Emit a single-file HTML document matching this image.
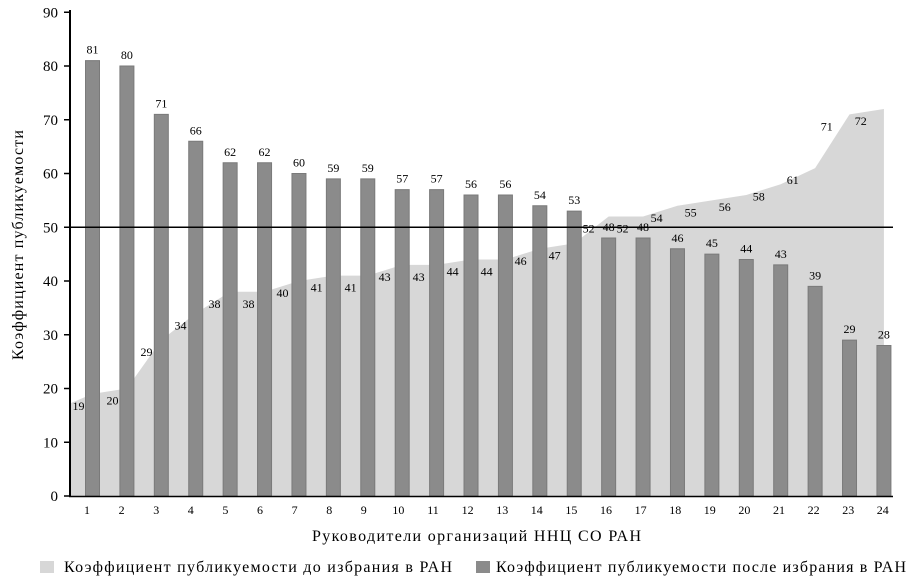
<!DOCTYPE html>
<html><head><meta charset="utf-8"><style>
body{margin:0;background:#fff;}
svg text{font-family:"Liberation Serif",serif;fill:#000;}
</style></head><body>
<svg id="c" width="919" height="583"></svg>
<script>
const categories=["1","2","3","4","5","6","7","8","9","10","11","12","13","14","15","16","17","18","19","20","21","22","23","24"];
const afterValues=[81,80,71,66,62,62,60,59,59,57,57,56,56,54,53,48,48,46,45,44,43,39,29,28];
const beforeValues=[19,20,29,34,38,38,40,41,41,43,43,44,44,46,47,52,52,54,55,56,58,61,71,72];
const yTicks=[0,10,20,30,40,50,60,70,80,90];
const svg=document.getElementById('c');
const NS='http://www.w3.org/2000/svg';
function el(t,a,p){const e=document.createElementNS(NS,t);for(const k in a)e.setAttribute(k,a[k]);(p||svg).appendChild(e);return e;}
const y=v=>496-v*5.375;
const x=i=>87+i*34.6;
const xb=i=>92.5+i*34.41;
// area
let pts=[(71)+','+y(beforeValues[0]-1.7)];
beforeValues.forEach((v,i)=>pts.push(xb(i)+','+y(v)));
pts.push(xb(23)+','+y(0));pts.push('71,'+y(0));
const area=el('polygon',{points:pts.join(' '),fill:'#d7d7d7'});


afterValues.forEach((v,i)=>{const r=el('rect',{x:xb(i)-7,y:y(v),width:14,height:y(0)-y(v),fill:'#8b8b8b',stroke:'#7a7a7a','stroke-width':1});


const t=el('text',{x:xb(i),y:y(v)-7,'font-size':12,'text-anchor':'middle'});t.textContent=v;

});
beforeValues.forEach((v,i)=>{const t=el('text',{x:xb(i)-14-i*0.4,y:y(v)+16,'font-size':12,'text-anchor':'middle'});t.textContent=v;

});
const ref=el('line',{x1:70,x2:893,y1:y(50),y2:y(50),stroke:'#000','stroke-width':1.5});


el('line',{x1:70,x2:70,y1:10,y2:497,stroke:'#000','stroke-width':2});
el('line',{x1:69,x2:893,y1:496.5,y2:496.5,stroke:'#000','stroke-width':1.5});
yTicks.forEach(v=>{el('line',{x1:64,x2:70,y1:y(v),y2:y(v),stroke:'#000','stroke-width':1.5});
const t=el('text',{x:58,y:y(v)+5,'font-size':15,'text-anchor':'end'});t.textContent=v;

});
categories.forEach((c,i)=>{const t=el('text',{x:x(i),y:514,'font-size':12,'text-anchor':'middle'});t.textContent=c;

});
const xt=el('text',{x:312,y:541,'font-size':16,textLength:329,lengthAdjust:'spacing'});xt.textContent='Руководители организаций ННЦ СО РАН';


const yt=el('text',{x:0,y:0,'font-size':16,textLength:230,lengthAdjust:'spacing',transform:'translate(23 360) rotate(-90)'});yt.textContent='Коэффициент публикуемости';


const l1=el('rect',{x:40,y:561,width:14,height:12,fill:'#d7d7d7'});


const lt1=el('text',{x:64,y:572,'font-size':16,textLength:388,lengthAdjust:'spacing'});lt1.textContent='Коэффициент публикуемости до избрания в РАН';


const l2=el('rect',{x:476,y:561,width:14,height:12,fill:'#8b8b8b'});


const lt2=el('text',{x:496,y:572,'font-size':16,textLength:410,lengthAdjust:'spacing'});lt2.textContent='Коэффициент публикуемости после избрания в РАН';


</script>
</body></html>
